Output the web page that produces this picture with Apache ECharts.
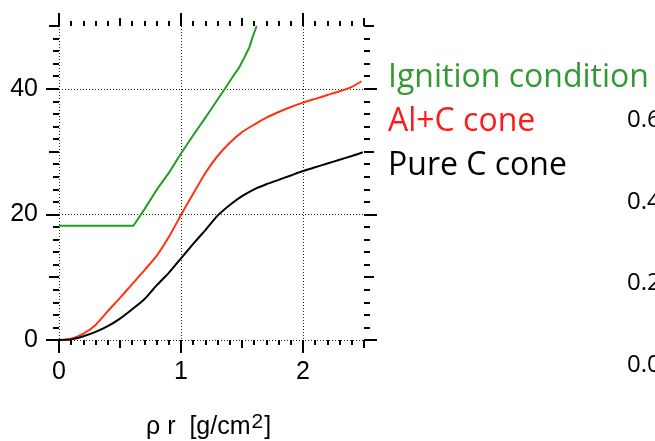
<!DOCTYPE html>
<html>
<head>
<meta charset="utf-8">
<script src="https://cdn.jsdelivr.net/npm/echarts@6/dist/echarts.min.js"></script>
<style>
  html, body { margin: 0; padding: 0; background: #fff; }
  #chart { width: 655px; height: 441px; }
</style>
</head>
<body>
<div id="chart"></div>
<script>
// Areal density rho*r [g/cm^2] against the plotted quantity
const ignition = [
  [0, 18.2], [0.61, 18.2], [0.7, 20.8], [0.8, 23.9], [0.9, 26.6], [1.0, 29.7],
  [1.1, 32.6], [1.2, 35.4], [1.3, 38.3], [1.36, 40.0], [1.42, 41.8], [1.48, 43.5],
  [1.52, 45.0], [1.56, 46.6], [1.59, 48.4], [1.62, 50.0]
];
const alCone = [
  [0, 0], [0.1, 0.2], [0.2, 1.0], [0.3, 2.4], [0.4, 4.6], [0.5, 6.7], [0.6, 8.9],
  [0.7, 11.1], [0.8, 13.4], [0.9, 16.4], [1.0, 19.9], [1.1, 23.3], [1.2, 26.6],
  [1.3, 29.3], [1.4, 31.4], [1.5, 33.1], [1.6, 34.3], [1.7, 35.4], [1.8, 36.3],
  [1.9, 37.1], [2.0, 37.8], [2.1, 38.4], [2.2, 39.0], [2.3, 39.6], [2.4, 40.3], [2.48, 41.2]
];
const pureCCone = [
  [0, 0], [0.1, 0.1], [0.2, 0.6], [0.3, 1.3], [0.4, 2.2], [0.5, 3.4], [0.6, 4.9],
  [0.7, 6.5], [0.8, 8.7], [0.9, 10.7], [1.0, 13.0], [1.1, 15.3], [1.2, 17.5],
  [1.3, 19.8], [1.4, 21.5], [1.5, 22.9], [1.6, 24.0], [1.7, 24.8], [1.8, 25.5],
  [1.9, 26.2], [2.0, 26.9], [2.1, 27.5], [2.2, 28.1], [2.3, 28.7], [2.4, 29.3], [2.49, 29.9]
];
const xLabelTicks = [0, 1, 2];
const yLabelTicks = [0, 20, 40];
const legendNames = ['Ignition condition', 'Al+C cone', 'Pure C cone'];
const sideTicks = ['0.6', '0.4', '0.2', '0.0'];

const X_MIN = 0, X_MAX = 2.5, Y_MIN = 0, Y_MAX = 50;
const T = 'rgba(0,0,0,0)';
const tickStyle = { color: '#000', width: 2 };
const labelFont = { fontFamily: 'Liberation Sans', fontSize: 25, color: '#000' };

function midAxis(dim, pos, withLabels) {
  const isX = dim === 'x';
  return {
    type: 'value', position: pos,
    min: isX ? X_MIN : Y_MIN, max: isX ? X_MAX : Y_MAX,
    interval: isX ? 0.5 : 10,
    axisLine: { show: false, onZero: false },
    axisTick: { show: true, length: isX ? 8 : 10, lineStyle: tickStyle },
    minorTick: { show: true, splitNumber: 5, length: isX ? 5 : 6, lineStyle: tickStyle },
    axisLabel: withLabels ? Object.assign({
      margin: isX ? 20 : 21,
      showMaxLabel: false,
      formatter: v => ((isX ? xLabelTicks : yLabelTicks).indexOf(v) >= 0 ? String(v) : '')
    }, labelFont) : { show: false },
    splitLine: withLabels ? {
      show: true,
      lineStyle: { color: ['#222', T, '#222', T, '#222', T], type: [1, 2], width: 1 }
    } : { show: false }
  };
}
function bigAxis(dim, pos) {
  const isX = dim === 'x';
  return {
    type: 'value', position: pos,
    min: isX ? X_MIN : Y_MIN, max: isX ? X_MAX : Y_MAX,
    interval: isX ? 1 : 20,
    axisLine: { show: false, onZero: false },
    axisTick: { show: true, length: 13, lineStyle: tickStyle,
                customValues: isX ? xLabelTicks : yLabelTicks },
    axisLabel: { show: false },
    splitLine: { show: false }
  };
}

const chart = echarts.init(document.getElementById('chart'), null, { renderer: 'canvas' });
chart.setOption({
  animation: false,
  backgroundColor: '#fff',
  grid: { left: 59, top: 26, width: 305, height: 314, containLabel: false },
  xAxis: [midAxis('x', 'bottom', true), bigAxis('x', 'bottom'), midAxis('x', 'top', false), bigAxis('x', 'top')],
  yAxis: [midAxis('y', 'left', true), bigAxis('y', 'left'), midAxis('y', 'right', false), bigAxis('y', 'right')],
  series: [
    { name: legendNames[0], type: 'line', data: ignition, showSymbol: false,
      lineStyle: { color: '#1f9e1f', width: 2 }, z: 3 },
    { name: legendNames[1], type: 'line', data: alCone, showSymbol: false, smooth: 0.2,
      lineStyle: { color: '#ff3311', width: 2 }, z: 3 },
    { name: legendNames[2], type: 'line', data: pureCCone, showSymbol: false, smooth: 0.2,
      lineStyle: { color: '#000', width: 2 }, z: 3 }
  ],
  graphic: [
    { type: 'text', left: 146, top: 412,
      style: { text: '{a|ρ r  [g/cm}{s|2}{a|]}', fill: '#000',
        rich: {
          a: { fontFamily: 'Liberation Sans', fontSize: 25, lineHeight: 28, verticalAlign: 'bottom' },
          s: { fontFamily: 'Liberation Sans', fontSize: 21, lineHeight: 28, verticalAlign: 'top', padding: [0, 1, 0, 1] }
        } } },
    { type: 'text', x: 388, y: 78, style: { text: legendNames[0], fill: '#339933',
      font: '32px "Open Sans"', verticalAlign: 'middle' } },
    { type: 'text', x: 388, y: 122, style: { text: legendNames[1], fill: '#ff1a1a',
      font: '32px "Open Sans"', verticalAlign: 'middle' } },
    { type: 'text', x: 388, y: 166, style: { text: legendNames[2], fill: '#000',
      font: '32px "Open Sans"', verticalAlign: 'middle' } }
  ].concat(sideTicks.map((t, i) => ({
    type: 'text', x: 627, y: 120.5 + i * 81.5,
    style: { text: t, fill: '#000', font: '24px "Open Sans"', verticalAlign: 'middle' }
  })))
});
</script>
</body>
</html>
